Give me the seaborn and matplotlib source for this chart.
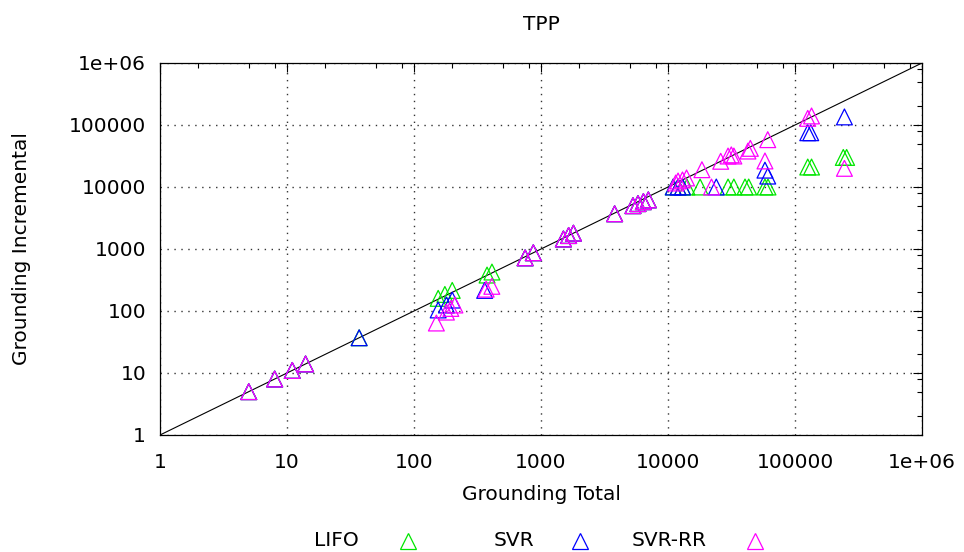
import numpy as np
import pandas as pd
import matplotlib
matplotlib.use("Agg")
import matplotlib.pyplot as plt
import matplotlib.ticker as mticker
from matplotlib.lines import Line2D
import seaborn as sns

# ---------------- data ----------------
lifo_total = [5, 8, 11, 14, 37, 155, 175, 200, 376, 411, 750, 870, 1500, 1650, 1800,
              3800, 5300, 5800, 6400, 7000, 11000, 12000, 13000, 14100, 17900, 29700,
              33000, 40400, 43200, 58000, 61300, 126000, 135000, 240000, 255000]
lifo_incr = [5, 8, 11, 14, 37, 160, 185, 215, 380, 425, 720, 870, 1450, 1650, 1800,
             3700, 5000, 5400, 5800, 6200, 10000, 10000, 10000, 10000, 10000, 10000,
             10000, 10000, 10000, 10000, 10000, 21000, 21000, 30000, 30000]

svr_total = [5, 8, 11, 14, 37, 155, 180, 200, 360, 750, 870, 1500, 1650, 1800, 3800,
             5300, 5800, 6400, 7000, 11000, 12000, 13000, 24000, 58000, 61000,
             126000, 133000, 245000]
svr_incr = [5, 8, 11, 14, 37, 104, 125, 150, 215, 720, 870, 1450, 1650, 1800, 3700,
            5000, 5400, 5800, 6200, 10000, 10000, 10000, 10000, 18700, 15000,
            75000, 75000, 135000]

svrrr_total = [5, 8, 11, 14, 150, 180, 195, 210, 370, 410, 750, 870, 1500, 1650, 1800,
               3800, 5300, 5800, 6400, 7000, 11500, 12000, 13000, 14000, 18500, 22000,
               26000, 29700, 31500, 33000, 42600, 44500, 58000, 61000, 126000, 135000,
               245000]
svrrr_incr = [5, 8, 11, 14, 64, 96, 110, 125, 225, 250, 720, 870, 1450, 1650, 1800,
              3700, 5000, 5400, 5800, 6200, 11600, 12500, 13000, 14000, 19000, 10000,
              26000, 31600, 33000, 31600, 38000, 42000, 26300, 58000, 128000, 140000,
              20000]

series_names = ["LIFO", "SVR", "SVR-RR"]
series_colors = ["#00e600", "#0000ff", "#ff00ff"]
diag = [1, 1e6]
tick_vals = [1, 10, 100, 1000, 10000, 100000, 1000000]
tick_labels = ["1", "10", "100", "1000", "10000", "100000", "1e+06"]

# ---------------- plot ----------------
sns.set_style("white")
plt.rcParams["font.family"] = ["DejaVu Sans"]
plt.rcParams["text.color"] = "black"
plt.rcParams["axes.labelcolor"] = "black"
plt.rcParams["xtick.color"] = "black"
plt.rcParams["ytick.color"] = "black"
FS = 14.5

W, H = 964, 552
fig = plt.figure(figsize=(W / 100, H / 100), dpi=100)
L, R, T, B = 160, 922, 63, 435
ax = fig.add_axes([L / W, 1 - B / H, (R - L) / W, (B - T) / H])

ax.set_xscale("log")
ax.set_yscale("log")
ax.set_xlim(diag)
ax.set_ylim(diag)

ax.plot(diag, diag, color="black", lw=0.8, zorder=2)

frames = [
    pd.DataFrame({"total": lifo_total, "incr": lifo_incr}),
    pd.DataFrame({"total": svr_total, "incr": svr_incr}),
    pd.DataFrame({"total": svrrr_total, "incr": svrrr_incr}),
]
for df, c in zip(frames, series_colors):
    sns.scatterplot(data=df, x="total", y="incr", ax=ax, marker="^", s=130,
                    color=c, facecolor="none", edgecolor=c, linewidth=0.9,
                    zorder=3, legend=False)

ax.xaxis.set_major_locator(mticker.FixedLocator(tick_vals))
ax.yaxis.set_major_locator(mticker.FixedLocator(tick_vals))
ax.xaxis.set_major_formatter(mticker.FixedFormatter(tick_labels))
ax.yaxis.set_major_formatter(mticker.FixedFormatter(tick_labels))
ax.xaxis.set_minor_locator(mticker.LogLocator(base=10, subs=[2, 5, 8]))
ax.yaxis.set_minor_locator(mticker.LogLocator(base=10, subs=[2, 5, 8]))
ax.xaxis.set_minor_formatter(mticker.NullFormatter())
ax.yaxis.set_minor_formatter(mticker.NullFormatter())

ax.tick_params(which="both", direction="in", top=True, right=True,
               color="black", width=0.8, labelcolor="black")
ax.tick_params(which="major", length=6.5, labelsize=FS)
ax.tick_params(which="minor", length=3.5)
ax.tick_params(axis="x", which="major", pad=13)
ax.tick_params(axis="y", which="major", pad=10)

ax.grid(True, which="major", color="#333333", linestyle=(0, (1, 4)), lw=1.0)
for sp in ax.spines.values():
    sp.set_color("black")
    sp.set_linewidth(0.9)

ax.set_xlabel("Grounding Total", fontsize=FS, color="black")
ax.set_ylabel("Grounding Incremental", fontsize=FS, color="black")
ax.xaxis.set_label_coords(0.5, (B - 495) / (B - T))
ax.xaxis.label.set_va("center")
ax.yaxis.set_label_coords((22 - L) / (R - L), 0.5)
ax.yaxis.label.set_va("center")

fig.text(541 / W, 1 - 25 / H, "TPP", ha="center", va="center", fontsize=FS,
         color="black")

# legend at bottom (gnuplot style: text then marker)
leg_y = 1 - 541 / H
text_right = [359, 534, 707]
marker_x = [408, 580, 755]
for name, c, tx, mx in zip(series_names, series_colors, text_right, marker_x):
    fig.text(tx / W, leg_y, name, ha="right", va="center", fontsize=FS,
             color="black")
    fig.add_artist(Line2D([mx / W], [leg_y], transform=fig.transFigure,
                          marker="^", markersize=11, mfc="none", mec=c,
                          mew=0.9, ls="none"))

fig.savefig("out.png", dpi=100)
